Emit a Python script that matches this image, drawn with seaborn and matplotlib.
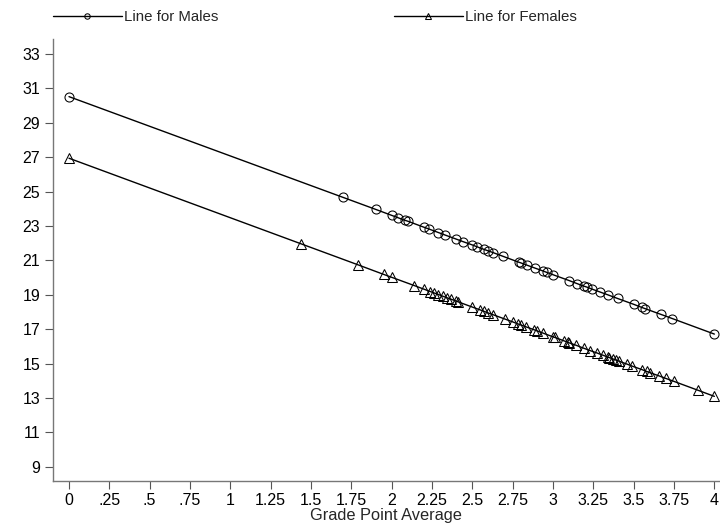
import matplotlib
matplotlib.use("Agg")
import matplotlib.pyplot as plt
import seaborn as sns
import pandas as pd

# GPA values where markers appear and the fitted values
male_gpa = [0, 1.7, 1.9, 2.0, 2.04, 2.08, 2.1, 2.2, 2.23, 2.29, 2.33, 2.4, 2.44, 2.5, 2.53,
            2.57, 2.6, 2.63, 2.69, 2.79, 2.8, 2.84, 2.89, 2.94, 2.96, 3.0, 3.1, 3.15, 3.19,
            3.21, 3.24, 3.29, 3.34, 3.4, 3.5, 3.55, 3.57, 3.67, 3.74, 4.0]
male_fit = [30.52, 24.66, 23.97, 23.62, 23.48, 23.34, 23.28, 22.93, 22.83, 22.62, 22.48,
            22.24, 22.10, 21.90, 21.79, 21.65, 21.55, 21.45, 21.24, 20.89, 20.86, 20.72,
            20.55, 20.38, 20.31, 20.17, 19.83, 19.65, 19.51, 19.45, 19.34, 19.17, 19.00,
            18.79, 18.45, 18.27, 18.20, 17.86, 17.62, 16.72]

female_gpa = [0, 1.44, 1.79, 1.95, 2.0, 2.14, 2.2, 2.24, 2.26, 2.29, 2.32, 2.34, 2.37, 2.4,
              2.41, 2.5, 2.55, 2.57, 2.6, 2.63, 2.7, 2.75, 2.78, 2.8, 2.83, 2.88, 2.9, 2.94,
              3.0, 3.01, 3.07, 3.09, 3.1, 3.14, 3.19, 3.23, 3.27, 3.31, 3.34, 3.35, 3.37,
              3.39, 3.41, 3.46, 3.49, 3.55, 3.58, 3.6, 3.66, 3.7, 3.75, 3.9, 4.0]
female_fit = [26.94, 21.96, 20.75, 20.19, 20.02, 19.54, 19.33, 19.19, 19.12, 19.02, 18.91,
              18.84, 18.74, 18.64, 18.60, 18.29, 18.12, 18.05, 17.94, 17.84, 17.60, 17.43,
              17.32, 17.25, 17.15, 16.98, 16.91, 16.77, 16.56, 16.53, 16.32, 16.25, 16.21,
              16.08, 15.90, 15.76, 15.63, 15.49, 15.38, 15.35, 15.28, 15.21, 15.14, 14.97,
              14.86, 14.66, 14.55, 14.48, 14.28, 14.14, 13.97, 13.45, 13.10]

series_labels = ["Line for Males", "Line for Females"]
x_ticks = [0, 0.25, 0.5, 0.75, 1, 1.25, 1.5, 1.75, 2, 2.25, 2.5, 2.75, 3, 3.25, 3.5, 3.75, 4]
x_tick_labels = ["0", ".25", ".5", ".75", "1", "1.25", "1.5", "1.75", "2", "2.25", "2.5",
                 "2.75", "3", "3.25", "3.5", "3.75", "4"]
y_ticks = [9, 11, 13, 15, 17, 19, 21, 23, 25, 27, 29, 31, 33]
x_label = "Grade Point Average"

sns.set_theme(style="white")
plt.rcParams["font.family"] = ["Liberation Sans", "DejaVu Sans"]

df_m = pd.DataFrame({"gpa": male_gpa, "fit": male_fit})
df_f = pd.DataFrame({"gpa": female_gpa, "fit": female_fit})

fig = plt.figure(figsize=(7.2, 5.27), dpi=100)
ax = fig.add_axes([0.0732, 0.0879, 0.9268, 0.8381])

sns.lineplot(data=df_m, x="gpa", y="fit", ax=ax, color="black", linewidth=1.0,
             marker="o", markersize=6.5, markerfacecolor="none", markeredgecolor="black",
             markeredgewidth=0.75, estimator=None, label=series_labels[0])
sns.lineplot(data=df_f, x="gpa", y="fit", ax=ax, color="black", linewidth=1.0,
             marker="^", markersize=6.5, markerfacecolor="none", markeredgecolor="black",
             markeredgewidth=0.75, estimator=None, label=series_labels[1])

ax.set_xlim(-0.101, 4.035)
ax.set_ylim(8.2, 33.87)
ax.set_xticks(x_ticks)
ax.set_xticklabels(x_tick_labels)
ax.set_yticks(y_ticks)
ax.set_xlabel(x_label, fontsize=11.8, labelpad=0)
ax.set_ylabel("")

for side in ["top", "right"]:
    ax.spines[side].set_visible(False)
for side in ["left", "bottom"]:
    ax.spines[side].set_color("#777777")
    ax.spines[side].set_linewidth(1.0)

ax.tick_params(axis="both", which="major", direction="out", length=6, width=0.8,
               color="#555555", labelsize=11.5, labelcolor="black", pad=3,
               bottom=True, left=True)
ax.grid(False)

handles, labels = ax.get_legend_handles_labels()
ax.get_legend().remove()
leg = fig.legend(handles, labels, loc="center left", bbox_to_anchor=(0.073, 0.967),
                 ncol=2, frameon=False, fontsize=10.8, handlelength=4.6,
                 handletextpad=0.15, columnspacing=11.7, borderaxespad=0, borderpad=0,
                 markerscale=0.6)

fig.savefig("out.png", dpi=100)
